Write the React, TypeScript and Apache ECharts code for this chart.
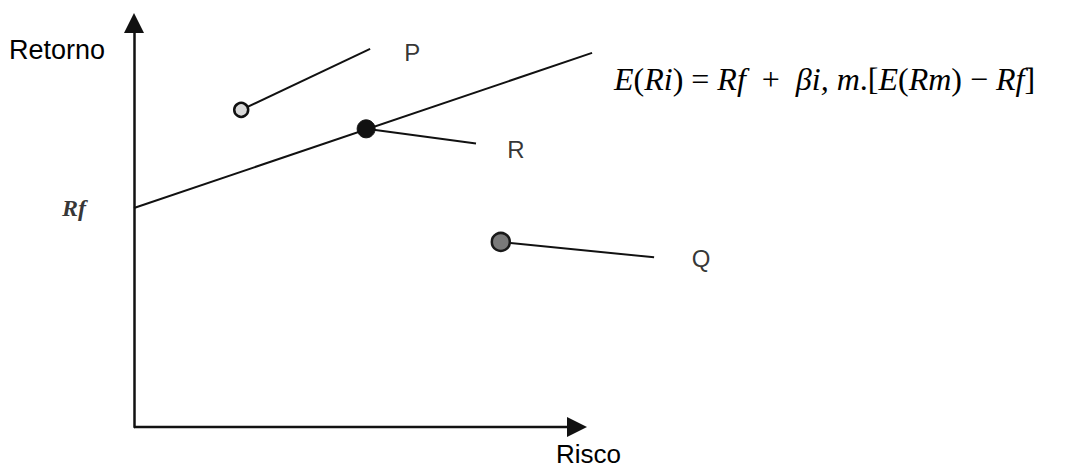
import React, { useEffect, useRef } from "react";
import * as echarts from "echarts";

// Security market line (risk, return)
const smlLine: [number, number][] = [
  [0, 5.42],
  [10.34, 9.26],
];
// Horizontal (risk) axis extent
const riskAxis: [number, number][] = [
  [0, 0],
  [10, 0],
];
// Assets: name, point, leader-line end, label position
const assetNames = ["P", "R", "Q"];
const assetPoints: [number, number][] = [
  [2.42, 7.85],
  [5.24, 7.38],
  [8.28, 4.58],
];
const leaderEnds: [number, number][] = [
  [5.33, 9.36],
  [7.72, 7.02],
  [11.74, 4.2],
];
const labelPoints: [number, number][] = [
  [6.28, 9.26],
  [8.62, 6.88],
  [12.8, 4.16],
];
const rfValue = 5.42;

const AXIS_COLOR = "#111";

export default function App() {
  const ref = useRef<HTMLDivElement>(null);
  useEffect(() => {
    if (!ref.current) return;
    const chart = echarts.init(ref.current, null, { renderer: "svg" });
    const pointStyles = [
      { size: 14, color: "#d9d9d9", border: "#111", bw: 2.5 },
      { size: 18, color: "#111", border: "#111", bw: 1 },
      { size: 18, color: "#7a7a7a", border: "#1a1a1a", bw: 2.5 },
    ];
    const series: any[] = [
      {
        type: "line",
        data: [
          { value: riskAxis[0], symbol: "none" },
          {
            value: riskAxis[1],
            symbol: "triangle",
            symbolSize: [20, 20],
            symbolRotate: -90,
            itemStyle: { color: AXIS_COLOR },
          },
        ],
        showAllSymbol: true,
        clip: false,
        lineStyle: { color: AXIS_COLOR, width: 2.5 },
        z: 3,
      },
      {
        type: "line",
        data: smlLine,
        symbol: "none",
        clip: false,
        lineStyle: { color: AXIS_COLOR, width: 2 },
        z: 2,
      },
      ...assetPoints.map((p, i) => ({
        type: "line",
        data: [p, leaderEnds[i]],
        symbol: "none",
        clip: false,
        lineStyle: { color: AXIS_COLOR, width: 2 },
        z: 2,
      })),
      {
        type: "scatter",
        clip: false,
        z: 5,
        data: assetPoints.map((p, i) => ({
          value: p,
          symbolSize: pointStyles[i].size,
          itemStyle: {
            color: pointStyles[i].color,
            borderColor: pointStyles[i].border,
            borderWidth: pointStyles[i].bw,
            opacity: 1,
          },
        })),
      },
      {
        type: "scatter",
        clip: false,
        symbolSize: 0,
        z: 6,
        data: labelPoints.map((p, i) => ({ value: p, name: assetNames[i] })),
        label: {
          show: true,
          position: "inside",
          formatter: (d: any) => d.name,
          color: "#000",
          fontSize: 24,
          fontFamily: "Liberation Sans, Arial, sans-serif",
        },
      },
      {
        type: "scatter",
        clip: false,
        symbolSize: 0,
        data: [{ value: [0, rfValue], name: "Rf" }],
        label: {
          show: true,
          position: "left",
          distance: 48,
          formatter: "Rf",
          color: "#000",
          fontSize: 24,
          fontStyle: "italic",
          fontWeight: "bold",
          fontFamily: "Liberation Serif, Times New Roman, serif",
        },
      },
    ];
    chart.setOption({
      animation: false,
      backgroundColor: "#ffffff",
      grid: { left: 134, top: 23, right: 314.8, bottom: 41, containLabel: false },
      xAxis: {
        type: "value",
        min: 0,
        max: 14,
        splitLine: { show: false },
        axisTick: { show: false },
        axisLabel: { show: false },
        axisLine: { show: false },
      },
      yAxis: {
        type: "value",
        min: 0,
        max: 10,
        splitLine: { show: false },
        axisTick: { show: false },
        axisLabel: { show: false },
        axisLine: {
          show: true,
          symbol: ["none", "triangle"],
          symbolSize: [20, 20],
          lineStyle: { color: AXIS_COLOR, width: 2.5 },
        },
      },
      series,
      graphic: [
        {
          type: "text",
          left: 9,
          top: 36,
          style: {
            text: "Retorno",
            fill: "#000",
            fontSize: 27,
            fontFamily: "Liberation Sans, Arial, sans-serif",
          },
        },
        {
          type: "text",
          left: 556,
          top: 441,
          style: {
            text: "Risco",
            fill: "#000",
            fontSize: 26,
            fontFamily: "Liberation Sans, Arial, sans-serif",
          },
        },
        {
          type: "text",
          left: 614,
          top: 63,
          style: {
            text:
              "{a|E}{b|(}{a|Ri}{b|) = }{a|Rf}{b|  +  }{a|βi, m}{b|.[}{a|E}{b|(}{a|Rm}{b|) − }{a|Rf}{b|]}",
            fill: "#000",
            rich: {
              a: {
                fontSize: 32,
                fontStyle: "italic",
                fontFamily: "Liberation Serif, Times New Roman, serif",
                fill: "#000",
              },
              b: {
                fontSize: 32,
                fontFamily: "Liberation Serif, Times New Roman, serif",
                fill: "#000",
              },
            },
          },
        },
      ],
    });
    return () => chart.dispose();
  }, []);
  return (
    <div
      ref={ref}
      style={{ position: "fixed", left: 0, top: 0, width: 1069, height: 468 }}
    />
  );
}
